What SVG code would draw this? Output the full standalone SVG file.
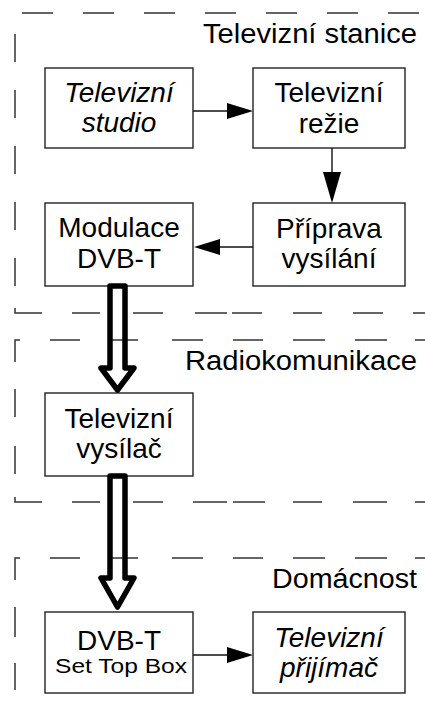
<svg xmlns="http://www.w3.org/2000/svg" width="425" height="718" viewBox="0 0 425 718">
<style>
.box{fill:#fff;stroke:#222;stroke-width:1.4}
.t{font-family:"Liberation Sans",Arial,sans-serif;font-size:28px;fill:#000;text-anchor:middle}
.it{font-style:italic}
.lab{font-family:"Liberation Sans",Arial,sans-serif;font-size:27px;fill:#000;text-anchor:end}
.dash{fill:none;stroke:#333;stroke-width:1.5}
.ln{fill:none;stroke:#111;stroke-width:1.4}
.head{fill:#000}
.big{fill:none;stroke:#000;stroke-width:5.5;stroke-linejoin:round}
</style>
<g id="frames">
<path class="dash" stroke-dasharray="31 30" d="M22,13 H425"/>
<path class="dash" stroke-dasharray="28 28" d="M15,34 V290"/>
<path class="dash" d="M15,308 V313 H42 M72,313 H100 M133,313 H163 M195,313 H227 M232,313 H262 M293,313 H322 M353,313 H383 M413,313 H425"/>
<path class="dash" d="M20,340 H15 V362 M15,389 V417 M15,446 V474 M50,340 H80 M110,340 H138 M172,340 H203 M233,340 H263 M293,340 H325 M355,340 H387 M415,340 H425"/>
<path class="dash" d="M15,497 V502 H42 M72,502 H100 M133,502 H163 M193,502 H227 M233,502 H265 M293,502 H322 M353,502 H387 M415,502 H425"/>
<path class="dash" d="M20,558 H15 V580 M15,607 V637 M15,663 V690 M50,558 H80 M110,558 H138 M172,558 H203 M233,558 H263 M293,558 H325 M355,558 H387 M415,558 H425"/>
</g>
<g id="labels">
<text class="lab" x="417" y="43" textLength="214" lengthAdjust="spacingAndGlyphs">Televizní stanice</text>
<text class="lab" x="417" y="370" textLength="232" lengthAdjust="spacingAndGlyphs">Radiokomunikace</text>
<text class="lab" x="417" y="588" textLength="145" lengthAdjust="spacingAndGlyphs">Domácnost</text>
</g>
<g id="studio">
<rect class="box" x="45" y="68" width="148" height="80"/>
<text class="t it" x="119" y="102">Televizní</text>
<text class="t it" x="119" y="132">studio</text>
</g>
<g id="rezie">
<rect class="box" x="253" y="68" width="152" height="80"/>
<text class="t" x="329" y="102">Televizní</text>
<text class="t" x="329" y="133">režie</text>
</g>
<g id="modulace">
<rect class="box" x="45" y="203" width="148" height="83"/>
<text class="t" x="119" y="237">Modulace</text>
<text class="t" x="119" y="268">DVB-T</text>
</g>
<g id="priprava">
<rect class="box" x="253" y="203" width="152" height="83"/>
<text class="t" x="329" y="238">Příprava</text>
<text class="t" x="329" y="268">vysílání</text>
</g>
<g id="vysilac">
<rect class="box" x="45" y="393" width="148" height="83"/>
<text class="t" x="119" y="428">Televizní</text>
<text class="t" x="119" y="458">vysílač</text>
</g>
<g id="stb">
<rect class="box" x="45" y="612" width="148" height="81"/>
<text class="t" x="119" y="650">DVB-T</text>
<text class="t" x="121" y="673" style="font-size:20px" textLength="132" lengthAdjust="spacingAndGlyphs">Set Top Box</text>
</g>
<g id="prijimac">
<rect class="box" x="253" y="612" width="152" height="81"/>
<text class="t it" x="329" y="647">Televizní</text>
<text class="t it" x="329" y="677">přijímač</text>
</g>
<g id="connectors">
<path class="ln" d="M193,111 H228"/>
<path class="head" d="M227,103 L253,111 L227,119 Z"/>
<path class="ln" d="M332,148 V173"/>
<path class="head" d="M323,172 L341,172 L332,203 Z"/>
<path class="ln" d="M253,247 H219"/>
<path class="head" d="M220,239 L194,247 L220,255 Z"/>
<path class="ln" d="M193,655 H228"/>
<path class="head" d="M227,647 L253,655 L227,663 Z"/>
<path class="big" d="M110,368 V286 H125 V368 H134 L117.5,390 L101,368 Z"/>
<path class="big" d="M110,578 V476 H125 V578 H134 L117.5,607 L101,578 Z"/>
</g>
</svg>
